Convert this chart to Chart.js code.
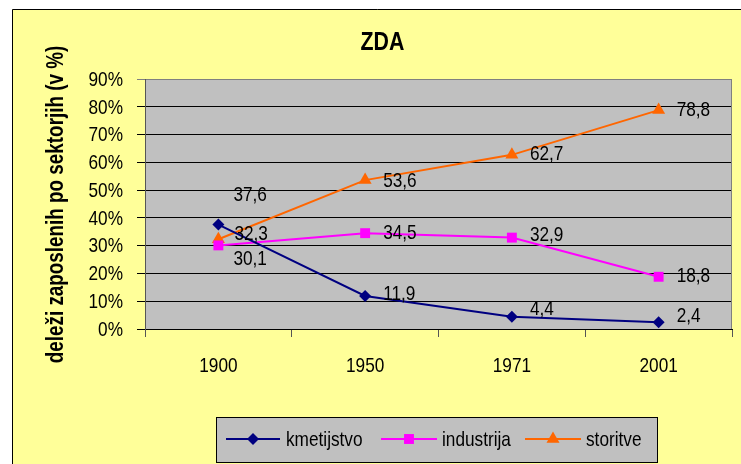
<!DOCTYPE html>
<html>
<head>
<meta charset="utf-8">
<script src="https://cdn.jsdelivr.net/npm/chart.js@4/dist/chart.umd.min.js"></script>
<style>
html,body{margin:0;padding:0;background:#fff;}
canvas{display:block;}
</style>
</head>
<body>
<canvas id="c" width="741" height="464"></canvas>
<script>
// ---- data ----
const categories = ['1900', '1950', '1971', '2001'];
const kmetijstvo = [37.6, 11.9, 4.4, 2.4];
const industrija = [30.1, 34.5, 32.9, 18.8];
const storitve   = [32.3, 53.6, 62.7, 78.8];
const seriesNames = ['kmetijstvo', 'industrija', 'storitve'];
const yTickValues = [0, 10, 20, 30, 40, 50, 60, 70, 80, 90];
const chartTitle = 'ZDA';
const yAxisTitle = 'deleži zaposlenih po sektorjih (v %)';

// label offsets (px) relative to each point: [dx, dy]
const labelOffsets = [
  [[15, -30], [18, -3], [18, -9], [18, -7]],
  [[15, 13], [18, -1], [18, -3], [18, -2]],
  [[16, -6], [18, 0], [18, -2], [18, -1]]
];

const FAM = "'Liberation Sans', Arial, sans-serif";
const SQ = 0.82; // horizontal condensing of text

const colors = ['#000080', '#FF00FF', '#FF6600'];
const styles = ['rectRot', 'rect', 'triangle'];
const radii = [6, 7, 7.5];

const fmt = v => v.toFixed(1).replace('.', ',');

// condensed text helper
function txt(ctx, s, x, y, size, opts) {
  opts = opts || {};
  ctx.save();
  ctx.font = (opts.bold ? 'bold ' : '') + size + 'px ' + FAM;
  ctx.textAlign = opts.align || 'left';
  ctx.textBaseline = opts.baseline || 'middle';
  ctx.fillStyle = '#000';
  ctx.translate(x, y);
  if (opts.rotate) ctx.rotate(opts.rotate);
  ctx.scale(SQ, 1);
  ctx.fillText(s, 0, 0);
  ctx.restore();
}

const bgPlugin = {
  id: 'bg',
  beforeDraw(chart) {
    const ctx = chart.ctx, a = chart.chartArea;
    ctx.save();
    ctx.fillStyle = '#fff';
    ctx.fillRect(0, 0, chart.width, chart.height);
    ctx.fillStyle = '#FFFF99';
    ctx.fillRect(12, 9, chart.width, chart.height);
    ctx.strokeStyle = '#000';
    ctx.lineWidth = 1;
    ctx.beginPath();
    ctx.moveTo(12.5, chart.height + 2);
    ctx.lineTo(12.5, 9.5);
    ctx.lineTo(chart.width + 2, 9.5);
    ctx.stroke();
    ctx.fillStyle = '#C0C0C0';
    ctx.fillRect(a.left, a.top, a.right - a.left, a.bottom - a.top);
    ctx.restore();
  },
  afterDraw(chart) {
    const ctx = chart.ctx, a = chart.chartArea;
    ctx.save();
    // right border of plot
    ctx.strokeStyle = '#808080';
    ctx.lineWidth = 1;
    ctx.beginPath();
    ctx.moveTo(Math.round(a.right) - 0.5, a.top);
    ctx.lineTo(Math.round(a.right) - 0.5, a.bottom);
    ctx.stroke();
    ctx.restore();
    // tick labels from scales
    const ys = chart.scales.y, xs = chart.scales.x;
    ys.ticks.forEach(t => {
      txt(ctx, t.value + '%', 123, ys.getPixelForValue(t.value) + 1, 21, { align: 'right' });
    });
    chart.data.labels.forEach((lab, i) => {
      txt(ctx, lab, xs.getPixelForValue(i), 366, 21, { align: 'center' });
    });
    // title
    txt(ctx, chartTitle, 382.5, 50, 26, { bold: true, align: 'center', baseline: 'alphabetic' });
    // y axis title
    txt(ctx, yAxisTitle, 63, 204.5, 23, { bold: true, align: 'center', baseline: 'alphabetic', rotate: -Math.PI / 2 });
    // legend
    ctx.save();
    ctx.fillStyle = '#C0C0C0';
    ctx.fillRect(216.5, 417.5, 441, 45);
    ctx.strokeStyle = '#000';
    ctx.lineWidth = 1;
    ctx.strokeRect(216.5, 417.5, 441, 45);
    const items = [[226, 280, 286], [381, 437, 442], [525, 581, 586]];
    const ly = 439;
    chart.data.datasets.forEach((ds, i) => {
      const [x0, x1, tx] = items[i];
      ctx.strokeStyle = ds.borderColor;
      ctx.lineWidth = 2;
      ctx.beginPath();
      ctx.moveTo(x0, ly); ctx.lineTo(x1, ly); ctx.stroke();
      drawMarker(ctx, styles[i], (x0 + x1) / 2, ly, radii[i], ds.borderColor);
      txt(ctx, ds.label, tx, ly + 1, 21);
    });
    ctx.restore();
  },
  afterDatasetsDraw(chart) {
    const ctx = chart.ctx;
    chart.data.datasets.forEach((ds, i) => {
      const meta = chart.getDatasetMeta(i);
      meta.data.forEach((pt, j) => {
        const [dx, dy] = labelOffsets[i][j];
        txt(ctx, fmt(ds.data[j]), pt.x + dx, pt.y + dy + 1, 21);
      });
    });
  }
};

function drawMarker(ctx, style, x, y, r, color) {
  ctx.save();
  ctx.fillStyle = color;
  ctx.beginPath();
  if (style === 'rectRot') {
    ctx.moveTo(x, y - r); ctx.lineTo(x + r, y); ctx.lineTo(x, y + r); ctx.lineTo(x - r, y);
  } else if (style === 'rect') {
    const s = r * Math.SQRT1_2;
    ctx.rect(x - s, y - s, 2 * s, 2 * s);
  } else {
    const w = r * Math.sqrt(3) / 2;
    ctx.moveTo(x, y - r); ctx.lineTo(x + w, y + r / 2); ctx.lineTo(x - w, y + r / 2);
  }
  ctx.closePath();
  ctx.fill();
  ctx.restore();
}

const seriesData = [kmetijstvo, industrija, storitve];

new Chart(document.getElementById('c'), {
  type: 'line',
  data: {
    labels: categories,
    datasets: seriesData.map((d, i) => ({
      label: seriesNames[i],
      data: d,
      borderColor: colors[i],
      backgroundColor: colors[i],
      borderWidth: 2,
      tension: 0,
      pointStyle: styles[i],
      pointRadius: radii[i],
      pointHoverRadius: radii[i],
      pointBackgroundColor: colors[i],
      pointBorderColor: colors[i],
      pointBorderWidth: 0,
      clip: false
    }))
  },
  options: {
    responsive: false,
    animation: false,
    events: [],
    layout: { padding: { left: 0, right: 9, top: 79, bottom: 0 } },
    plugins: { legend: { display: false }, title: { display: false }, tooltip: { enabled: false } },
    scales: {
      x: {
        type: 'category',
        offset: true,
        grid: { offset: true, drawOnChartArea: false, drawTicks: true, tickLength: 8, color: '#555', lineWidth: 1 },
        border: { color: '#000', width: 1 },
        ticks: { display: false, autoSkip: false },
        afterFit: s => { s.height = 135; }
      },
      y: {
        type: 'linear',
        min: 0,
        max: 90,
        afterBuildTicks: s => { s.ticks = yTickValues.map(v => ({ value: v })); },
        ticks: { display: false },
        grid: { color: ctx => (ctx.tick && ctx.tick.value === 90 ? '#808080' : '#000'), lineWidth: 1, tickLength: 8 },
        border: { color: '#555', width: 1 },
        afterFit: s => { s.width = 145; }
      }
    }
  },
  plugins: [bgPlugin]
});
</script>
</body>
</html>
